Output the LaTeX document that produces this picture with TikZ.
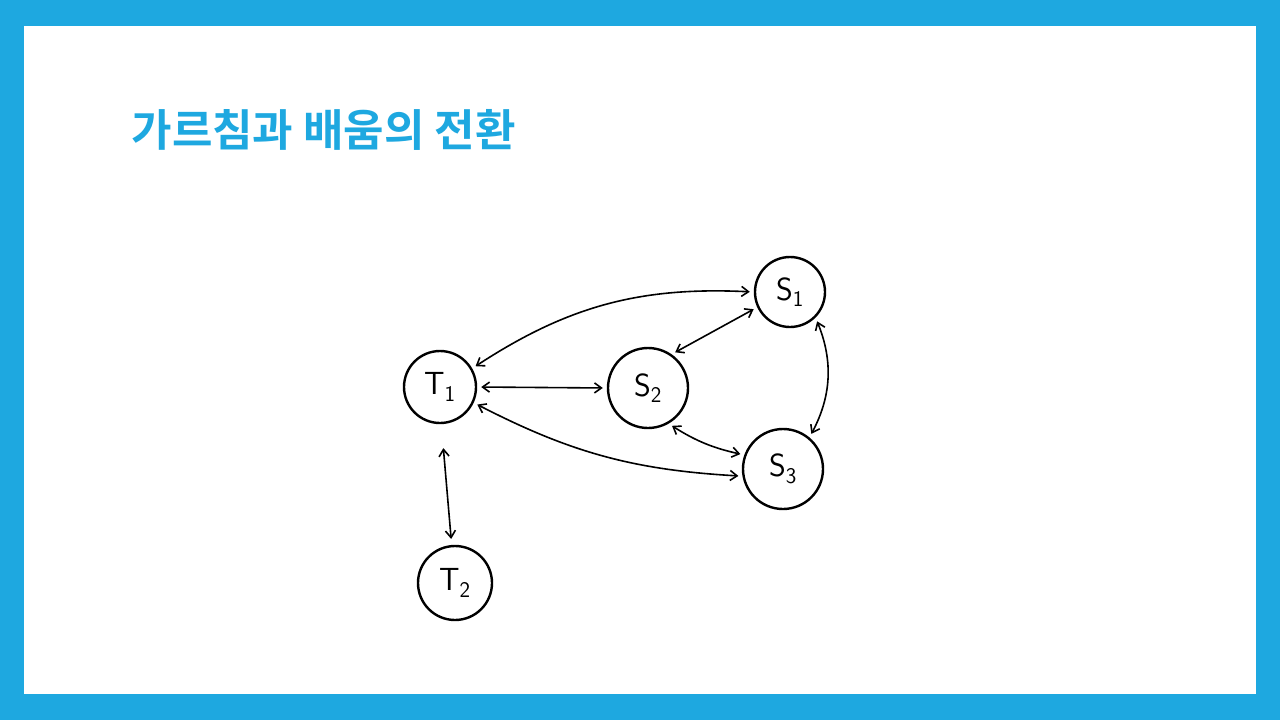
\documentclass[tikz,border=0pt]{standalone}
\usepackage{fontspec}
\newfontfamily\kr{Noto Sans CJK KR}[BoldFont={Noto Sans CJK KR Bold}]
\usetikzlibrary{arrows.meta}
\definecolor{frame}{HTML}{1EA8E0}
\begin{document}
\begin{tikzpicture}[x=1pt,y=-1pt,
  circ/.style={circle,draw,line width=2.4pt,font=\sffamily\fontsize{32}{32}\selectfont},
  link/.style={{Straight Barb[length=7pt,width=10pt]}-{Straight Barb[length=7pt,width=10pt]},line width=1.6pt,shorten <=4pt,shorten >=4pt}]
\fill[frame] (0,0) rectangle (1280,720);
\fill[white] (24,26) rectangle (1256,694);
\useasboundingbox (0,0) rectangle (1280,720);
\node[anchor=west,text=frame,font=\kr\bfseries\fontsize{44}{44}\selectfont] (title) at (128,130) {가르침과 배움의 전환};
\node[circ,minimum size=72pt] (T1) at (440,387) {T\textsubscript{1}};
\node[circ,minimum size=80pt] (S2) at (648,388) {S\textsubscript{2}};
\node[circ,minimum size=70pt] (S1) at (790,292) {S\textsubscript{1}};
\node[circ,minimum size=80pt] (S3) at (783,469) {S\textsubscript{3}};
\node[circ,minimum size=74pt] (T2) at (455,583) {T\textsubscript{2}};
\draw[link] (T1.30) to[bend left=18] (S1.180);
\draw[link] (S2.55) -- (S1.205);
\draw[link] (T1.0) -- (S2.180);
\draw[link] (T1.-25) to[bend right=12] (S3.190);
\draw[link] (S2.-60) to[bend right=10] (S3.160);
\draw[link] (S1.-45) to[bend left=25] (S3.50);
\draw[link,shorten <=24pt,shorten >=6pt] (T1.-88) -- (T2.95);
\end{tikzpicture}
\end{document}
